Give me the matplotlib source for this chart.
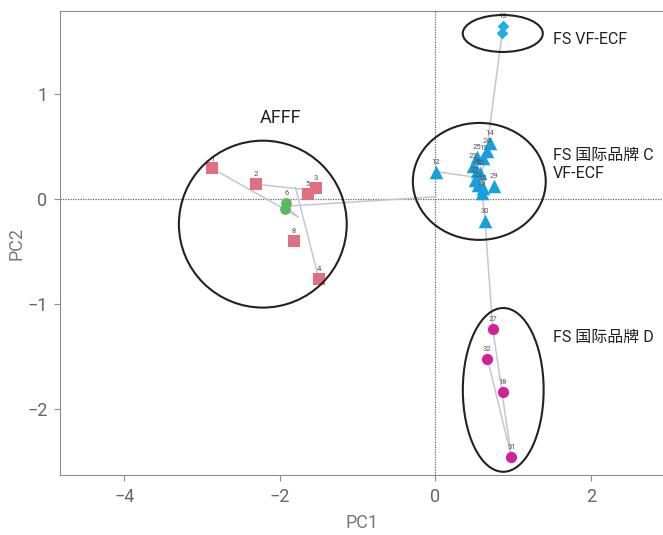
import matplotlib
matplotlib.use("Agg")
import matplotlib.pyplot as plt
from matplotlib.patches import Ellipse

plt.rcParams['font.family'] = ['Roboto', 'Noto Sans CJK SC', 'DejaVu Sans']

# ---- data ----
afff_labels = ["1", "2", "3", "5", "8", "4"]
afff_x = [-2.87, -2.31, -1.54, -1.64, -1.82, -1.50]
afff_y = [0.29, 0.14, 0.10, 0.05, -0.40, -0.76]

green_labels = ["6", "7"]
green_x = [-1.92, -1.93]
green_y = [-0.04, -0.10]

blue_labels = ["12", "14", "24", "19", "25", "23", "26", "20", "21", "22", "15", "28", "29", "30"]
blue_x = [0.01, 0.70, 0.66, 0.62, 0.54, 0.49, 0.54, 0.57, 0.51, 0.55, 0.61, 0.60, 0.76, 0.64]
blue_y = [0.26, 0.53, 0.46, 0.39, 0.40, 0.31, 0.27, 0.25, 0.18, 0.13, 0.10, 0.06, 0.12, -0.21]

top_labels = ["13", "16"]
top_x = [0.87, 0.86]
top_y = [1.65, 1.58]

mag_labels = ["27", "32", "18", "31"]
mag_x = [0.74, 0.67, 0.87, 0.98]
mag_y = [-1.24, -1.52, -1.84, -2.46]

# connecting segments (start x, start y, end x, end y)
seg_x0 = [-2.87, -2.31, -1.80, -1.93, -1.93, 0.01, 0.58, 0.58, 0.86, 0.64, 0.74, 0.67]
seg_y0 = [0.29, 0.14, 0.11, -0.07, -0.07, 0.26, 0.20, 0.20, 1.58, -0.21, -1.24, -1.52]
seg_x1 = [-1.77, -1.55, -1.50, 0.0, -1.77, 0.58, 0.70, 0.64, 0.66, 0.74, 0.98, 0.98]
seg_y1 = [-0.17, 0.08, -0.76, 0.02, -0.17, 0.20, 0.53, -0.21, 0.46, -1.24, -2.46, -2.46]

# group circles: centre x, centre y, width, height
ell_x = [-2.22, 0.566, 0.868, 0.874]
ell_y = [-0.24, 0.167, 1.576, -1.819]
ell_w = [2.16, 1.71, 1.03, 1.04]
ell_h = [1.59, 1.114, 0.352, 1.56]

group_texts = ["AFFF", "FS VF-ECF", "FS 国际品牌 C\nVF-ECF", "FS 国际品牌 D"]
group_tx = [-1.99, 1.51, 1.51, 1.51]
group_ty = [0.77, 1.52, 0.33, -1.32]

fig = plt.figure(figsize=(6.63, 5.35), dpi=100)
ax = fig.add_axes([0.0905, 0.1121, 0.9095, 0.8673])
ax.set_xlim(-4.83, 2.93)
ax.set_ylim(-2.63, 1.79)

ax.axhline(0, color="#666666", lw=0.9, ls=(0, (1, 1)), zorder=1)
ax.axvline(0, color="#666666", lw=0.9, ls=(0, (1, 1)), zorder=1)

for x0, y0, x1, y1 in zip(seg_x0, seg_y0, seg_x1, seg_y1):
    ax.plot([x0, x1], [y0, y1], color="#c4c6d4", lw=1.1, zorder=2)

ax.scatter(afff_x, afff_y, marker="s", s=70, color="#e0707f", zorder=3, linewidths=0)
ax.scatter(green_x, green_y, marker="o", s=60, color="#5cb85c", zorder=3, linewidths=0)
ax.scatter(blue_x, blue_y, marker="^", s=95, color="#1a9fde", zorder=3, linewidths=0)
ax.scatter(top_x, top_y, marker="D", s=35, color="#1ab0e6", zorder=3, linewidths=0)
ax.scatter(mag_x, mag_y, marker="o", s=65, color="#d0209a", zorder=3, linewidths=0)

for labs, xs, ys in [(afff_labels, afff_x, afff_y), (green_labels[:1], green_x[:1], green_y[:1]),
                     (blue_labels, blue_x, blue_y), (top_labels[:1], top_x[:1], top_y[:1]),
                     (mag_labels, mag_x, mag_y)]:
    for l, x, y in zip(labs, xs, ys):
        ax.annotate(l, (x, y), xytext=(0, 5), textcoords="offset points",
                    ha="center", va="bottom", fontsize=5.5, color="#555555", zorder=4)

for cx, cy, w, h in zip(ell_x, ell_y, ell_w, ell_h):
    ax.add_patch(Ellipse((cx, cy), w, h, fill=False, ec="#222222", lw=1.5, zorder=5))

for t, x, y in zip(group_texts, group_tx, group_ty):
    if t == "AFFF":
        ax.text(x, y, t, fontsize=13, color="#222222", ha="center", va="center")
    else:
        ax.text(x, y, t, fontsize=11.5, color="#222222", ha="left", va="center", linespacing=1.25)

ax.set_xticks([-4, -2, 0, 2])
ax.set_yticks([-2, -1, 0, 1])
ax.set_xticklabels(["\u22124", "\u22122", "0", "2"])
ax.set_yticklabels(["\u22122", "\u22121", "0", "1"])
ax.tick_params(colors="#8a8d93", labelcolor="#666666", labelsize=13, length=4, pad=5)
for sp in ["left", "bottom", "top"]:
    ax.spines[sp].set_color("#8a8d93")
ax.spines["right"].set_visible(False)
ax.set_xlabel("PC1", fontsize=13, color="#777777", labelpad=6)
ax.set_ylabel("PC2", fontsize=13, color="#777777", labelpad=1)

fig.savefig("out.png", dpi=100)
